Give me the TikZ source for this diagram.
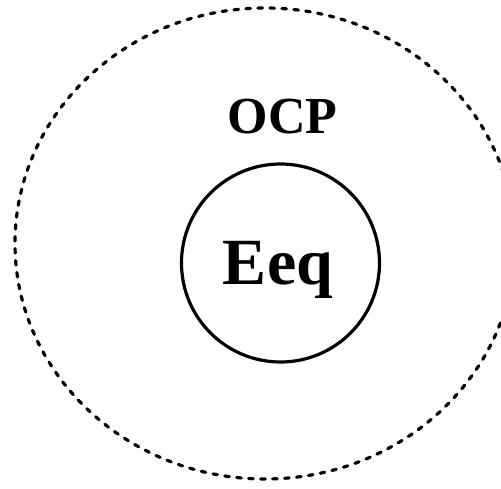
\documentclass[tikz,border=0pt]{standalone}
\usepackage{fontspec}
\setmainfont{Liberation Serif}
\usetikzlibrary{shapes.geometric, positioning}

\begin{document}
\begin{tikzpicture}[x=1pt, y=1pt,
        region/.style={draw, ellipse, line width=3.2pt, dash pattern=on 4.5pt off 7.5pt,
            line cap=round, minimum width=500pt, minimum height=471pt, inner sep=0pt},
        core/.style={draw, circle, line width=3.2pt, minimum size=198pt, inner sep=0pt},
        lbl/.style={font=\bfseries, anchor=base, inner sep=0pt}
    ]
        \useasboundingbox (0,0) rectangle (501,488);
        \node[region] (ocp) at (265,244.5) {};
        \node[core] (eeq) at (280.5,225) {};
        \node[lbl, font=\fontsize{66}{70}\bfseries\selectfont] (eeqtxt) at (278,204) {Eeq};
        \node[lbl, font=\fontsize{52}{56}\bfseries\selectfont] (ocptxt) at (282.5,354) {OCP};
    \end{tikzpicture}
\end{document}
